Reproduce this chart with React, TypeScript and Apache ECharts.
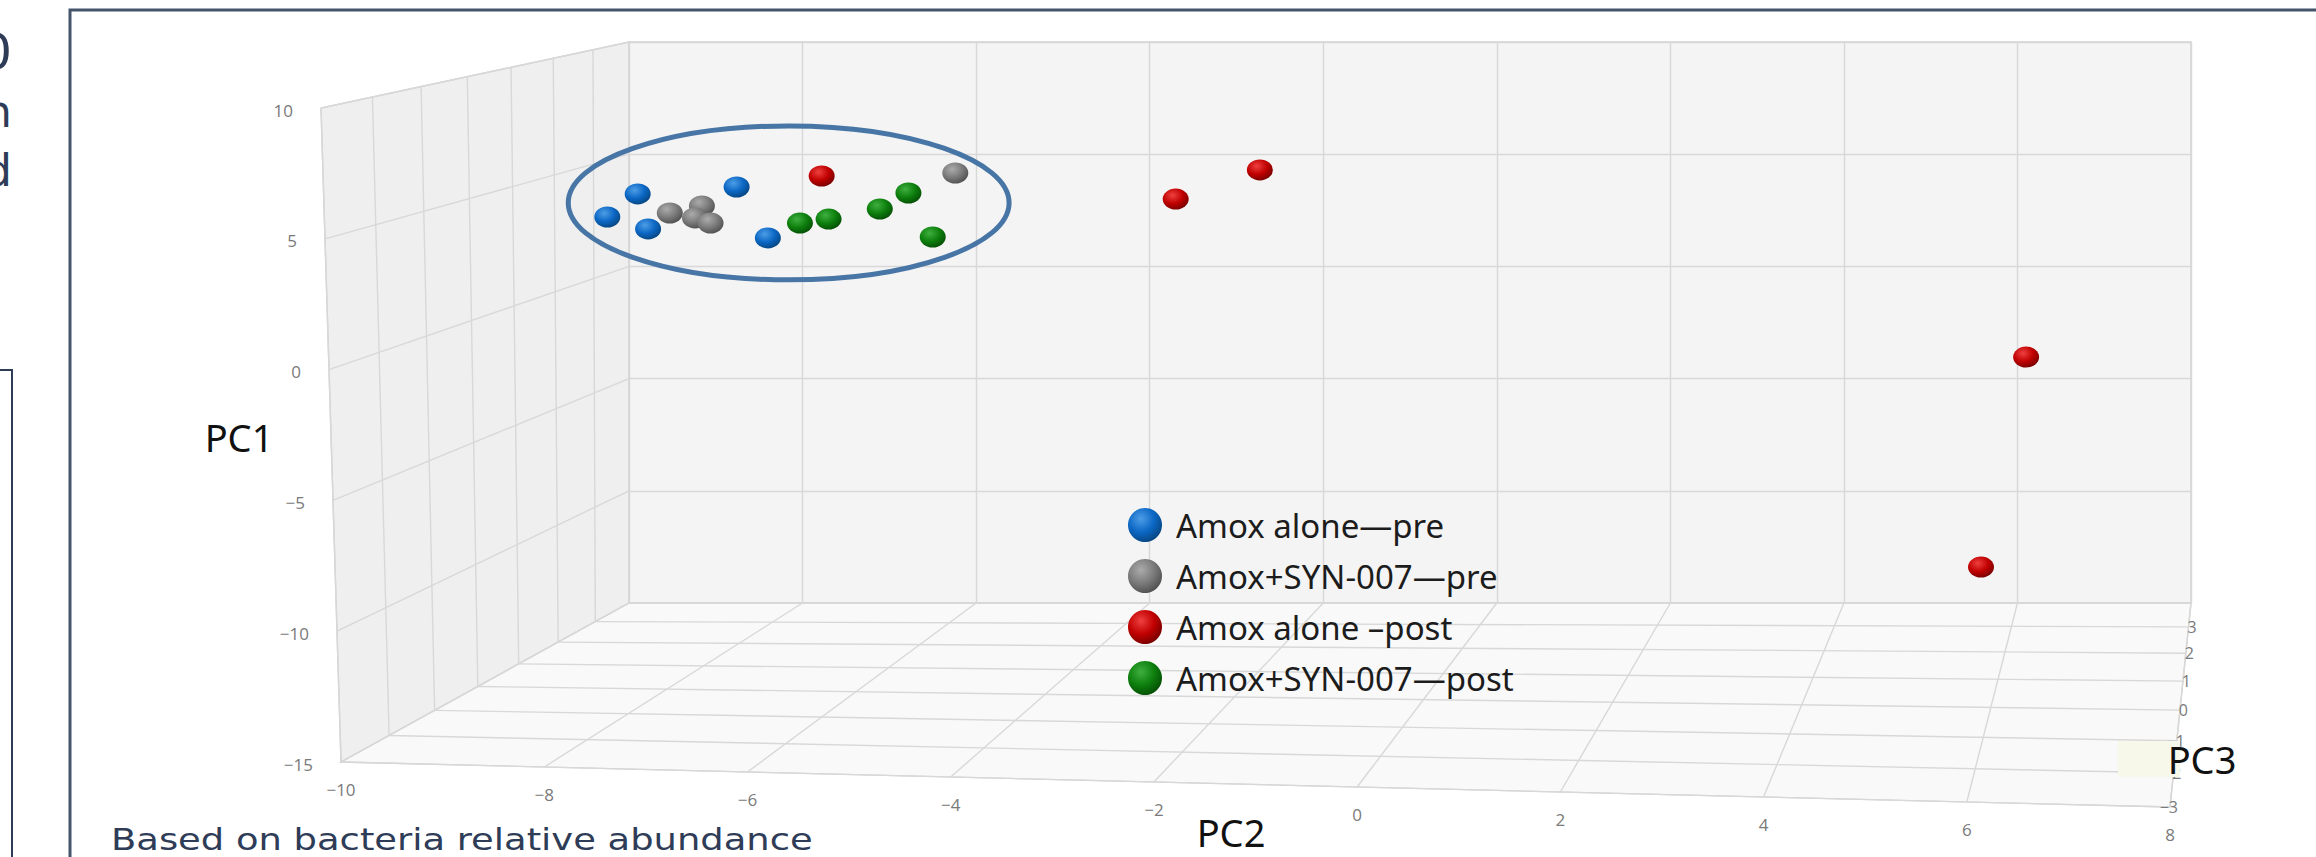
import React, { useEffect, useRef } from "react";
import * as echarts from "echarts";

// ---------- axis ticks ----------
const PC2_TICKS = [-10, -8, -6, -4, -2, 0, 2, 4, 6, 8];
const PC1_TICKS = [10, 5, 0, -5, -10, -15];
// depth lines from back wall to front edge (back edge unlabeled)
const PC3_TICKS = [4, 3, 2, 1, 0, -1, -2, -3];
const PC3_LABELS = ["", "3", "2", "1", "0", "\u22121", "\u22122", "\u22123"];

// ---------- series ----------
const SERIES_NAMES = [
  "Amox alone\u2014pre",
  "Amox+SYN-007\u2014pre",
  "Amox alone \u2013post",
  "Amox+SYN-007\u2014post",
];
// [PC2, PC1] as projected onto the back wall
const amoxAlonePre = [[-10.25, 2.2], [-9.9, 3.23], [-9.78, 1.67], [-8.76, 3.54], [-8.4, 1.27]];
const amoxSynPre = [[-9.53, 2.38], [-9.16, 2.69], [-9.24, 2.16], [-9.06, 1.93], [-6.24, 4.16]];
const amoxAlonePost = [[-7.78, 4.03], [-3.7, 3.0], [-2.73, 4.3], [6.1, -4.04], [5.58, -13.4]];
const amoxSynPost = [[-8.03, 1.93], [-7.7, 2.11], [-7.11, 2.56], [-6.78, 3.27], [-6.5, 1.31]];
const SERIES_DATA = [amoxAlonePre, amoxSynPre, amoxAlonePost, amoxSynPost];

// cluster annotation (data units)
const CLUSTER_CENTER = [-8.16, 2.83];
const CLUSTER_RX = 2.54;
const CLUSTER_RY = 3.43;

// ---------- layout / style ----------
const X_MIN = -10, X_MAX = 8, Y_MIN = -15, Y_MAX = 10;
const DEPTH_T = [0, 0.117, 0.246, 0.383, 0.525, 0.675, 0.833, 1];
const FRONT_TL = [321, 108];
const FRONT_BL = [341, 762];
const FRONT_BR = [2170, 807];

const SPHERE = [
  ["#4d9de6", "#0b67c4", "#07457f"],
  ["#ababab", "#7b7b7b", "#4f4f4f"],
  ["#ef4040", "#c00000", "#760000"],
  ["#3fb03f", "#0d7f0d", "#054e05"],
];
const sphere = (c: string[]) => ({
  type: "radial",
  x: 0.38,
  y: 0.32,
  r: 0.72,
  colorStops: [
    { offset: 0, color: c[0] },
    { offset: 0.55, color: c[1] },
    { offset: 1, color: c[2] },
  ],
});

const ELLIPSE_PATH = "path://M50 0A50 50 0 1 1 50 100A50 50 0 1 1 50 0Z";
const TICK_FONT = "Open Sans";
const GRID_COLOR = "#d8d8d8";
const NAVY = "#2e3c57";

export default function App() {
  const ref = useRef<HTMLDivElement>(null);

  useEffect(() => {
    if (!ref.current) return;
    const chart = echarts.init(ref.current, null, { renderer: "svg" });

    const renderBox = (_params: any, api: any) => {
      const back = (x: number, y: number) => api.coord([x, y]);
      const front = (x: number, y: number) => {
        const fx = (x - X_MIN) / (X_MAX - X_MIN);
        const fy = (y - Y_MIN) / (Y_MAX - Y_MIN);
        return [
          FRONT_BL[0] + fx * (FRONT_BR[0] - FRONT_BL[0]) + fy * (FRONT_TL[0] - FRONT_BL[0]),
          FRONT_BL[1] + fx * (FRONT_BR[1] - FRONT_BL[1]) + fy * (FRONT_TL[1] - FRONT_BL[1]),
        ];
      };
      const at = (x: number, y: number, t: number) => {
        const b = back(x, y);
        const f = front(x, y);
        return [b[0] + (f[0] - b[0]) * t, b[1] + (f[1] - b[1]) * t];
      };
      const line = (p: number[], q: number[], color = GRID_COLOR, w = 1.4) => ({
        type: "line",
        shape: { x1: p[0], y1: p[1], x2: q[0], y2: q[1] },
        style: { stroke: color, lineWidth: w },
      });
      const text = (p: number[], s: string, align: string, dx: number, dy: number, size = 17) => ({
        type: "text",
        x: p[0] + dx,
        y: p[1] + dy,
        style: {
          text: s,
          fill: "#7a7a7a",
          fontSize: size,
          fontFamily: TICK_FONT,
          align,
          verticalAlign: "middle",
        },
      });
      const children: any[] = [];
      // left wall
      children.push({
        type: "polygon",
        shape: { points: [back(X_MIN, Y_MAX), back(X_MIN, Y_MIN), front(X_MIN, Y_MIN), front(X_MIN, Y_MAX)] },
        style: { fill: "#efefef", stroke: "#d2d2d2", lineWidth: 1.4 },
      });
      // floor
      children.push({
        type: "polygon",
        shape: { points: [back(X_MIN, Y_MIN), back(X_MAX, Y_MIN), front(X_MAX, Y_MIN), front(X_MIN, Y_MIN)] },
        style: { fill: "#f9f9f9", stroke: "#d2d2d2", lineWidth: 1.4 },
      });
      // left wall grid
      PC1_TICKS.forEach((v) => children.push(line(back(X_MIN, v), front(X_MIN, v))));
      DEPTH_T.forEach((t) => children.push(line(at(X_MIN, Y_MAX, t), at(X_MIN, Y_MIN, t))));
      // floor grid
      PC2_TICKS.forEach((u) => children.push(line(back(u, Y_MIN), front(u, Y_MIN))));
      DEPTH_T.forEach((t) => children.push(line(at(X_MIN, Y_MIN, t), at(X_MAX, Y_MIN, t))));
      // tick labels
      PC1_TICKS.forEach((v) =>
        children.push(text(front(X_MIN, v), v < 0 ? "\u2212" + Math.abs(v) : String(v), "right", -28, 2))
      );
      PC2_TICKS.forEach((u) =>
        children.push(text(front(u, Y_MIN), u < 0 ? "\u2212" + Math.abs(u) : String(u), "center", 0, 27))
      );
      PC3_TICKS.forEach((_v, k) => {
        if (!PC3_LABELS[k]) return;
        children.push(text(at(X_MAX, Y_MIN, DEPTH_T[k]), PC3_LABELS[k], "right", 8, 0, 16));
      });
      return { type: "group", children };
    };

    const option: any = {
      animation: false,
      backgroundColor: "#ffffff",
      grid: {
        left: 629,
        top: 42,
        width: 1562,
        height: 561,
        show: true,
        backgroundColor: "#f4f4f4",
        borderColor: "#d2d2d2",
        borderWidth: 1.4,
      },
      xAxis: {
        type: "value",
        min: X_MIN,
        max: X_MAX,
        interval: 2,
        axisLine: { show: false },
        axisTick: { show: false },
        axisLabel: { show: false },
        splitLine: { show: true, lineStyle: { color: GRID_COLOR, width: 1.4 } },
      },
      yAxis: {
        type: "value",
        min: Y_MIN,
        max: Y_MAX,
        interval: 5,
        axisLine: { show: false },
        axisTick: { show: false },
        axisLabel: { show: false },
        splitLine: { show: true, lineStyle: { color: GRID_COLOR, width: 1.4 } },
      },
      legend: {
        orient: "vertical",
        left: 1123,
        top: 503,
        icon: "circle",
        itemWidth: 52,
        itemHeight: 34,
        itemGap: 17,
        data: SERIES_NAMES,
        textStyle: { fontSize: 33, fontFamily: "Noto Sans", color: "#1c1c1c", lineHeight: 34 },
      },
      series: [
        {
          type: "custom",
          name: "box",
          silent: true,
          z: 1,
          clip: false,
          data: [[0, 0]],
          renderItem: renderBox,
        },
        ...SERIES_NAMES.map((name, i) => ({
          type: "scatter",
          name,
          data: SERIES_DATA[i],
          symbol: ELLIPSE_PATH,
          symbolSize: [26, 21],
          clip: false,
          z: 5,
          itemStyle: { color: sphere(SPHERE[i]), opacity: 1 },
        })),
      ],
    };
    chart.setOption(option);

    const c = chart.convertToPixel({ gridIndex: 0 }, CLUSTER_CENTER) as number[];
    const e = chart.convertToPixel({ gridIndex: 0 }, [
      CLUSTER_CENTER[0] + CLUSTER_RX,
      CLUSTER_CENTER[1] + CLUSTER_RY,
    ]) as number[];

    chart.setOption({
      graphic: [
        {
          type: "ellipse",
          z: 20,
          silent: true,
          shape: { cx: c[0], cy: c[1], rx: Math.abs(e[0] - c[0]), ry: Math.abs(c[1] - e[1]) },
          style: { fill: "none", stroke: "#4775a5", lineWidth: 5 },
        },
        {
          type: "rect",
          z: 30,
          silent: true,
          shape: { x: 70, y: 10, width: 3000, height: 3000 },
          style: { fill: "none", stroke: "#44546a", lineWidth: 3 },
        },
        {
          type: "polyline",
          z: 30,
          silent: true,
          shape: { points: [[0, 370], [12, 370], [12, 900]] },
          style: { fill: "none", stroke: NAVY, lineWidth: 2 },
        },
        ...[
          ["0", 52, 50],
          ["n", 111, 44],
          ["d", 170, 44],
        ].map(([s, y, size]) => ({
          type: "text",
          z: 30,
          silent: true,
          x: 12,
          y: y as number,
          style: {
            text: s as string,
            fill: NAVY,
            fontSize: size as number,
            fontFamily: "DejaVu Sans",
            align: "right",
            verticalAlign: "middle",
          },
        })),
        {
          type: "text",
          z: 30,
          silent: true,
          x: 111,
          y: 839,
          scaleX: 1.19,
          style: {
            text: "Based on bacteria relative abundance",
            fill: NAVY,
            fontSize: 31,
            fontFamily: "DejaVu Sans",
            align: "left",
            verticalAlign: "middle",
          },
        },
        {
          type: "text",
          z: 30,
          silent: true,
          x: 239,
          y: 437,
          style: { text: "PC1", fill: "#111111", fontSize: 38, fontFamily: "Noto Sans", align: "center", verticalAlign: "middle" },
        },
        {
          type: "text",
          z: 30,
          silent: true,
          x: 1231,
          y: 832,
          style: { text: "PC2", fill: "#111111", fontSize: 38, fontFamily: "Noto Sans", align: "center", verticalAlign: "middle" },
        },
        {
          type: "rect",
          z: 29,
          silent: true,
          shape: { x: 2118, y: 741, width: 62, height: 36 },
          style: { fill: "#f7f7ea" },
        },
        {
          type: "text",
          z: 30,
          silent: true,
          x: 2202,
          y: 759,
          style: { text: "PC3", fill: "#111111", fontSize: 38, fontFamily: "Noto Sans", align: "center", verticalAlign: "middle" },
        },
      ],
    });

    return () => chart.dispose();
  }, []);

  return (
    <div
      ref={ref}
      style={{ position: "absolute", left: 0, top: 0, width: 2316, height: 857, background: "#ffffff" }}
    />
  );
}
